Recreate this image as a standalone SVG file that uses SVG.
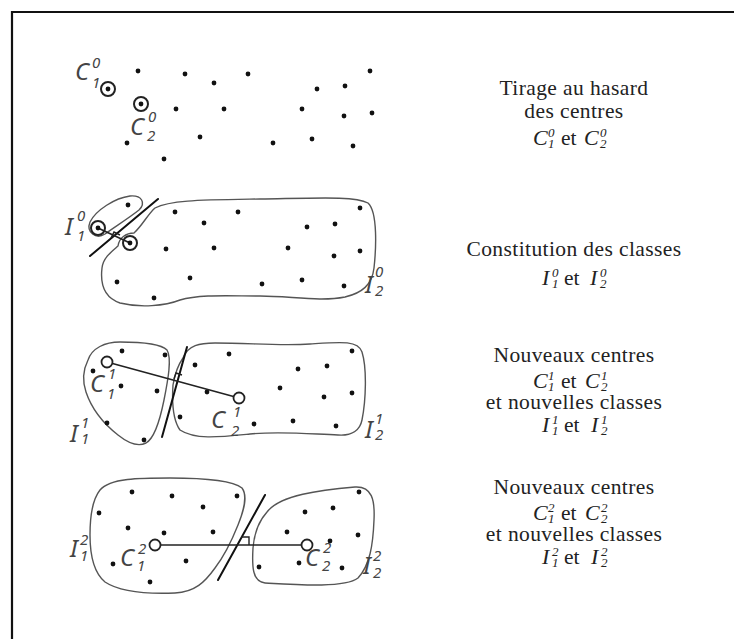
<svg xmlns="http://www.w3.org/2000/svg" width="734" height="639" viewBox="0 0 734 639">
<style>
.frame{fill:none;stroke:#111;stroke-width:2.2}
.blob{fill:none;stroke:#555;stroke-width:1.4;stroke-linejoin:round}
.sep{stroke:#111;stroke-width:2;stroke-linecap:round}
.seg{stroke:#222;stroke-width:1.6}
.ra{fill:none;stroke:#222;stroke-width:1.4}
.dot{fill:#111}
.ring{fill:none;stroke:#222;stroke-width:2}
.oc{fill:#fff;stroke:#222;stroke-width:1.8}
.lb{font-family:"Noto Sans","DejaVu Sans",sans-serif;font-style:italic;fill:#444;font-size:24px}
.ls{font-family:"Noto Sans","DejaVu Sans",sans-serif;font-style:italic;fill:#444;font-size:15px}
.t{font-family:"Liberation Serif","Times New Roman",serif;fill:#222;font-size:21.5px;letter-spacing:0.4px;text-anchor:middle}
.m{font-family:"Liberation Serif","Times New Roman",serif;font-style:italic;fill:#222;font-size:22px}
.ms{font-family:"Liberation Serif","Times New Roman",serif;font-style:italic;fill:#222;font-size:13px}
.r{font-family:"Liberation Serif","Times New Roman",serif;fill:#222;font-size:21.5px}
</style>
<rect width="734" height="639" fill="#fff"/>
<path class="frame" d="M12,639 V12 H734"/>

<g id="panel1">
  <g class="dots">
    <circle class="dot" cx="138" cy="71" r="2.4"/><circle class="dot" cx="185" cy="74" r="2.4"/>
    <circle class="dot" cx="214" cy="83" r="2.4"/><circle class="dot" cx="248" cy="74" r="2.4"/>
    <circle class="dot" cx="370" cy="71" r="2.4"/><circle class="dot" cx="317" cy="89" r="2.4"/>
    <circle class="dot" cx="345" cy="86" r="2.4"/><circle class="dot" cx="176" cy="109" r="2.4"/>
    <circle class="dot" cx="224" cy="109" r="2.4"/><circle class="dot" cx="302" cy="109" r="2.4"/>
    <circle class="dot" cx="344" cy="116" r="2.4"/><circle class="dot" cx="372" cy="113" r="2.4"/>
    <circle class="dot" cx="127" cy="143" r="2.4"/><circle class="dot" cx="200" cy="137" r="2.4"/>
    <circle class="dot" cx="273" cy="143" r="2.4"/><circle class="dot" cx="312" cy="139" r="2.4"/>
    <circle class="dot" cx="353" cy="146" r="2.4"/><circle class="dot" cx="164" cy="159" r="2.4"/>
  </g>
  <g id="c1-0"><circle class="ring" cx="108" cy="89" r="7"/><circle class="dot" cx="108" cy="89" r="2.4"/></g>
  <g id="c2-0"><circle class="ring" cx="141" cy="104" r="7"/><circle class="dot" cx="141" cy="104" r="2.4"/></g>
  <text class="lb" x="75" y="80">C</text><text class="ls" x="92" y="68">0</text><text class="ls" x="92" y="88">1</text>
  <text class="lb" x="130" y="135">C</text><text class="ls" x="148" y="122">0</text><text class="ls" x="147" y="141">2</text>
</g>

<g id="panel2">
  <path class="blob" d="M90,222 C96,210 115,198 130,196 C142,195 146,203 139,210 C129,218 113,228 105,234 C96,240 86,232 90,222 Z"/>
  <path class="blob" d="M155,208 C170,200 200,200 260,199 C320,198 355,196 368,203 C378,212 376,250 374,268 C372,285 362,293 345,297 C320,302 290,296 260,296 C230,296 200,294 180,300 C165,306 140,308 120,303 C105,298 100,285 102,268 C103,258 111,252 118,246 C119,238 126,233 134,233 C142,226 148,214 155,208 Z"/>
  <g class="dots">
    <circle class="dot" cx="128" cy="205" r="2.4"/><circle class="dot" cx="175" cy="212" r="2.4"/>
    <circle class="dot" cx="238" cy="212" r="2.4"/><circle class="dot" cx="204" cy="223" r="2.4"/>
    <circle class="dot" cx="360" cy="208" r="2.4"/><circle class="dot" cx="307" cy="227" r="2.4"/>
    <circle class="dot" cx="335" cy="224" r="2.4"/><circle class="dot" cx="166" cy="249" r="2.4"/>
    <circle class="dot" cx="214" cy="248" r="2.4"/><circle class="dot" cx="288" cy="248" r="2.4"/>
    <circle class="dot" cx="334" cy="256" r="2.4"/><circle class="dot" cx="360" cy="251" r="2.4"/>
    <circle class="dot" cx="117" cy="282" r="2.4"/><circle class="dot" cx="190" cy="278" r="2.4"/>
    <circle class="dot" cx="262" cy="284" r="2.4"/><circle class="dot" cx="302" cy="280" r="2.4"/>
    <circle class="dot" cx="344" cy="286" r="2.4"/><circle class="dot" cx="154" cy="298" r="2.4"/>
  </g>
  <line class="sep" x1="90" y1="256" x2="158" y2="199"/>
  <line class="seg" x1="98" y1="228" x2="130" y2="243"/>
  <polyline class="ra" points="111,238 114,232 120,235"/>
  <circle class="ring" cx="98" cy="228" r="7"/><circle class="dot" cx="98" cy="228" r="2.4"/>
  <circle class="ring" cx="130" cy="243" r="7"/><circle class="dot" cx="130" cy="243" r="2.4"/>
  <text class="lb" x="65" y="235">I</text><text class="ls" x="77" y="221">0</text><text class="ls" x="77" y="241">1</text>
  <text class="lb" x="365" y="293">I</text><text class="ls" x="375" y="277">0</text><text class="ls" x="375" y="296">2</text>
</g>

<g id="panel3">
  <path class="blob" d="M88,360 C92,348 105,342 120,342 C140,342 160,343 167,350 C172,358 168,380 164,400 C160,420 155,438 146,443 C138,447 128,443 118,435 C104,424 92,410 86,392 C82,380 84,368 88,360 Z"/>
  <path class="blob" d="M183,358 C188,345 200,343 215,343 C250,343 280,346 310,344 C340,342 358,340 362,352 C367,368 366,400 362,420 C360,430 352,436 338,435 C310,434 280,431 250,434 C220,437 195,440 180,430 C173,420 172,400 173,385 C175,373 178,365 183,358 Z"/>
  <g class="dots">
    <circle class="dot" cx="122" cy="351" r="2.4"/><circle class="dot" cx="165" cy="355" r="2.4"/>
    <circle class="dot" cx="93" cy="371" r="2.4"/><circle class="dot" cx="121" cy="386" r="2.4"/>
    <circle class="dot" cx="157" cy="391" r="2.4"/><circle class="dot" cx="107" cy="423" r="2.4"/>
    <circle class="dot" cx="144" cy="440" r="2.4"/><circle class="dot" cx="229" cy="354" r="2.4"/>
    <circle class="dot" cx="352" cy="351" r="2.4"/><circle class="dot" cx="195" cy="365" r="2.4"/>
    <circle class="dot" cx="298" cy="369" r="2.4"/><circle class="dot" cx="327" cy="366" r="2.4"/>
    <circle class="dot" cx="207" cy="392" r="2.4"/><circle class="dot" cx="280" cy="388" r="2.4"/>
    <circle class="dot" cx="324" cy="397" r="2.4"/><circle class="dot" cx="352" cy="393" r="2.4"/>
    <circle class="dot" cx="180" cy="417" r="2.4"/><circle class="dot" cx="254" cy="424" r="2.4"/>
    <circle class="dot" cx="293" cy="421" r="2.4"/><circle class="dot" cx="336" cy="426" r="2.4"/>
  </g>
  <line class="sep" x1="187" y1="347" x2="162" y2="437"/>
  <line class="seg" x1="107" y1="362" x2="239" y2="398"/>
  <polyline class="ra" points="174,379 176,373 182,375"/>
  <circle class="oc" cx="107" cy="362" r="5.5"/>
  <circle class="oc" cx="239" cy="398" r="5.5"/>
  <text class="lb" x="90" y="392">C</text><text class="ls" x="108" y="379">1</text><text class="ls" x="107" y="399">1</text>
  <text class="lb" x="211" y="428">C</text><text class="ls" x="233" y="417">1</text><text class="ls" x="231" y="436">2</text>
  <text class="lb" x="70" y="442">I</text><text class="ls" x="81" y="428">1</text><text class="ls" x="81" y="444">1</text>
  <text class="lb" x="365" y="438">I</text><text class="ls" x="375" y="424">1</text><text class="ls" x="375" y="440">2</text>
</g>

<g id="panel4">
  <path class="blob" d="M100,490 C110,478 140,478 170,478 C200,478 232,480 242,488 C248,496 244,510 238,525 C232,540 225,555 215,568 C205,582 195,592 175,593 C150,594 120,592 105,582 C93,572 90,555 90,535 C90,515 92,500 100,490 Z"/>
  <path class="blob" d="M267,512 C280,495 320,490 355,487 C372,486 375,500 374,520 C373,545 370,565 358,578 C345,588 300,585 265,583 C252,582 252,565 253,548 C254,535 258,522 267,512 Z"/>
  <g class="dots">
    <circle class="dot" cx="132" cy="492" r="2.4"/><circle class="dot" cx="172" cy="496" r="2.4"/>
    <circle class="dot" cx="237" cy="496" r="2.4"/><circle class="dot" cx="203" cy="507" r="2.4"/>
    <circle class="dot" cx="99" cy="513" r="2.4"/><circle class="dot" cx="128" cy="528" r="2.4"/>
    <circle class="dot" cx="164" cy="533" r="2.4"/><circle class="dot" cx="213" cy="532" r="2.4"/>
    <circle class="dot" cx="113" cy="564" r="2.4"/><circle class="dot" cx="186" cy="561" r="2.4"/>
    <circle class="dot" cx="150" cy="582" r="2.4"/><circle class="dot" cx="359" cy="492" r="2.4"/>
    <circle class="dot" cx="305" cy="512" r="2.4"/><circle class="dot" cx="333" cy="508" r="2.4"/>
    <circle class="dot" cx="287" cy="532" r="2.4"/><circle class="dot" cx="330" cy="541" r="2.4"/>
    <circle class="dot" cx="358" cy="535" r="2.4"/><circle class="dot" cx="259" cy="567" r="2.4"/>
    <circle class="dot" cx="299" cy="563" r="2.4"/><circle class="dot" cx="342" cy="568" r="2.4"/>
  </g>
  <line class="sep" x1="265" y1="495" x2="218" y2="580"/>
  <line class="seg" x1="155" y1="545" x2="307" y2="545"/>
  <polyline class="ra" points="241,537 249,537 249,545"/>
  <circle class="oc" cx="155" cy="545" r="5.5"/>
  <circle class="oc" cx="307" cy="545" r="5.5"/>
  <text class="lb" x="70" y="557">I</text><text class="ls" x="80" y="545">2</text><text class="ls" x="80" y="561">1</text>
  <text class="lb" x="120" y="566">C</text><text class="ls" x="138" y="554">2</text><text class="ls" x="137" y="571">1</text>
  <text class="lb" x="305" y="566">C</text><text class="ls" x="323" y="553">2</text><text class="ls" x="322" y="571">2</text>
  <text class="lb" x="363" y="574">I</text><text class="ls" x="373" y="561">2</text><text class="ls" x="373" y="578">2</text>
</g>

<g id="captions">
  <text class="t" x="574" y="95">Tirage au hasard</text>
  <text class="t" x="574" y="118">des centres</text>
  <text class="m" x="533" y="145">C</text><text class="ms" x="548" y="137">0</text><text class="ms" x="548" y="148">1</text>
  <text class="r" x="561" y="145">et</text>
  <text class="m" x="584" y="145">C</text><text class="ms" x="600" y="137">0</text><text class="ms" x="600" y="148">2</text>

  <text class="t" x="574" y="256">Constitution des classes</text>
  <text class="m" x="542" y="285">I</text><text class="ms" x="552" y="277">0</text><text class="ms" x="552" y="288">1</text>
  <text class="r" x="564" y="285">et</text>
  <text class="m" x="590" y="285">I</text><text class="ms" x="600" y="277">0</text><text class="ms" x="600" y="288">2</text>

  <text class="t" x="574" y="362">Nouveaux centres</text>
  <text class="m" x="533" y="388">C</text><text class="ms" x="548" y="380">1</text><text class="ms" x="548" y="391">1</text>
  <text class="r" x="561" y="388">et</text>
  <text class="m" x="585" y="388">C</text><text class="ms" x="601" y="380">1</text><text class="ms" x="601" y="391">2</text>
  <text class="t" x="574" y="409">et nouvelles classes</text>
  <text class="m" x="542" y="432">I</text><text class="ms" x="552" y="424">1</text><text class="ms" x="552" y="435">1</text>
  <text class="r" x="564" y="432">et</text>
  <text class="m" x="591" y="432">I</text><text class="ms" x="601" y="424">1</text><text class="ms" x="601" y="435">2</text>

  <text class="t" x="574" y="494">Nouveaux centres</text>
  <text class="m" x="533" y="520">C</text><text class="ms" x="548" y="512">2</text><text class="ms" x="548" y="523">1</text>
  <text class="r" x="561" y="520">et</text>
  <text class="m" x="585" y="520">C</text><text class="ms" x="601" y="512">2</text><text class="ms" x="601" y="523">2</text>
  <text class="t" x="574" y="541">et nouvelles classes</text>
  <text class="m" x="542" y="564">I</text><text class="ms" x="552" y="556">2</text><text class="ms" x="552" y="567">1</text>
  <text class="r" x="564" y="564">et</text>
  <text class="m" x="591" y="564">I</text><text class="ms" x="601" y="556">2</text><text class="ms" x="601" y="567">2</text>
</g>
</svg>
